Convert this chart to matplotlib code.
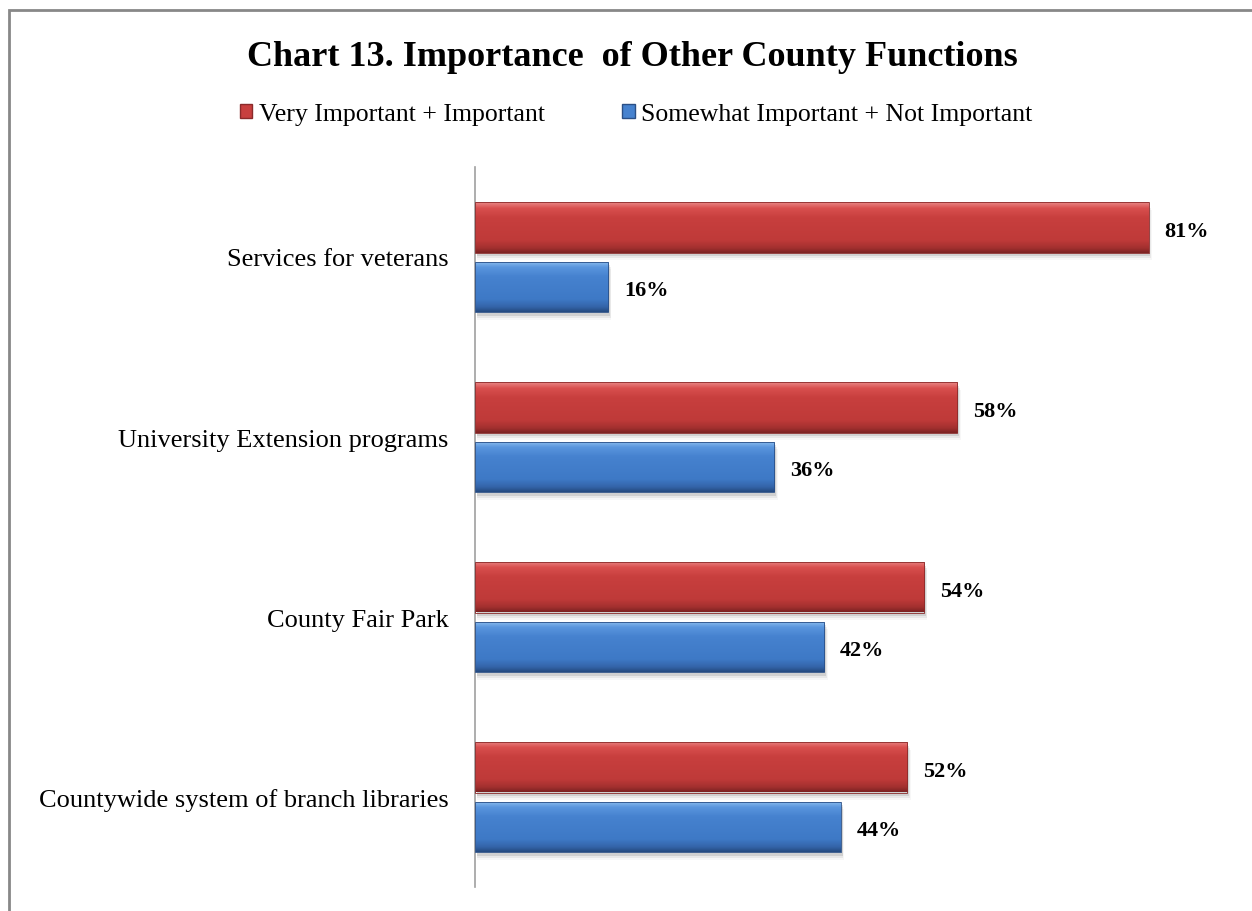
import matplotlib
matplotlib.use("Agg")
import matplotlib.pyplot as plt
import matplotlib.patches as patches
from matplotlib.colors import LinearSegmentedColormap
import numpy as np

# survey results, top to bottom
categories = ["Services for veterans",
              "University Extension programs",
              "County Fair Park",
              "Countywide system of branch libraries"]
important = [81, 58, 54, 52]
not_important = [16, 36, 42, 44]
series_names = ["Very Important + Important",
                "Somewhat Important + Not Important"]

plt.rcParams['font.family'] = ['Liberation Serif', 'DejaVu Serif']

red_cmap = LinearSegmentedColormap.from_list(
    "red_bevel", [(0.0, "#e98886"), (0.12, "#d9504f"), (0.3, "#c83f3e"),
                  (0.75, "#bf3a39"), (0.9, "#a3302f"), (1.0, "#7a2222")])
blue_cmap = LinearSegmentedColormap.from_list(
    "blue_bevel", [(0.0, "#8fc0f0"), (0.12, "#5a96de"), (0.3, "#4682cf"),
                   (0.75, "#3e79c6"), (0.9, "#3464a8"), (1.0, "#24497e")])


def bevel_bar(ax, y, value, height, cmap, edge):
    """Draw one horizontal bar with a vertical gradient and a soft shadow."""
    for k, a in enumerate([0.10, 0.06, 0.03]):
        shadow = patches.Rectangle((0.2, y - height / 2 + 0.02 + 0.012 * k),
                                   value + 0.1 * k, height,
                                   facecolor="#000000", alpha=a,
                                   edgecolor="none", zorder=1)
        ax.add_patch(shadow)
    bar = patches.Rectangle((0, y - height / 2), value, height,
                            facecolor="none", edgecolor=edge,
                            linewidth=0.6, zorder=3)
    ax.add_patch(bar)
    grad = np.linspace(0, 1, 256).reshape(-1, 1)
    img = ax.imshow(grad, cmap=cmap, aspect="auto", origin="upper",
                    extent=(0, value, y + height / 2, y - height / 2),
                    zorder=2, interpolation="bilinear")
    img.set_clip_path(bar)
    return bar


fig = plt.figure(figsize=(12.52, 9.12), dpi=100)
ax = fig.add_axes([475 / 1252, 1 - 888 / 912, 765 / 1252, 720 / 912])

y = np.arange(len(categories))
h = 0.28
off = 0.165
for i in range(len(categories)):
    bevel_bar(ax, y[i] - off, important[i], h, red_cmap, "#8a2a2a")
    bevel_bar(ax, y[i] + off, not_important[i], h, blue_cmap, "#2a4f86")
    ax.text(important[i] + 1.9, y[i] - off + 0.02, f"{important[i]}%",
            va="center", ha="left", fontsize=16, fontweight="bold")
    ax.text(not_important[i] + 1.9, y[i] + off + 0.02, f"{not_important[i]}%",
            va="center", ha="left", fontsize=16, fontweight="bold")

ax.set_xlim(0, 92)
ax.set_ylim(len(categories) - 0.5, -0.5)
ax.set_yticks(y)
ax.set_yticklabels(categories, fontsize=19)
ax.tick_params(axis="y", length=0, pad=19)
ax.set_xticks([])
for side in ["top", "right", "bottom"]:
    ax.spines[side].set_visible(False)
ax.spines["left"].set_color("#a0a0a0")
ax.spines["left"].set_linewidth(1.2)

fig.text(0.505, 1 - 58 / 912, "Chart 13. Importance  of Other County Functions",
         ha="center", va="center", fontsize=26, fontweight="bold")

handles = [patches.Patch(facecolor="#c83f3e", edgecolor="#8a2a2a"),
           patches.Patch(facecolor="#4682cf", edgecolor="#2a4f86")]
fig.legend(handles, series_names, loc="center",
           bbox_to_anchor=(0.508, 1 - 115 / 912), ncol=2, frameon=False,
           fontsize=18.5, handlelength=0.5, handleheight=0.5,
           handletextpad=0.25, columnspacing=3.0)

# chart frame
fig.patches.append(patches.Rectangle((9 / 1252, -0.1), 1.2, 1 - 11 / 912 + 0.1,
                                     transform=fig.transFigure, fill=False,
                                     edgecolor="#888888", linewidth=2))

fig.savefig("out.png", dpi=100)
